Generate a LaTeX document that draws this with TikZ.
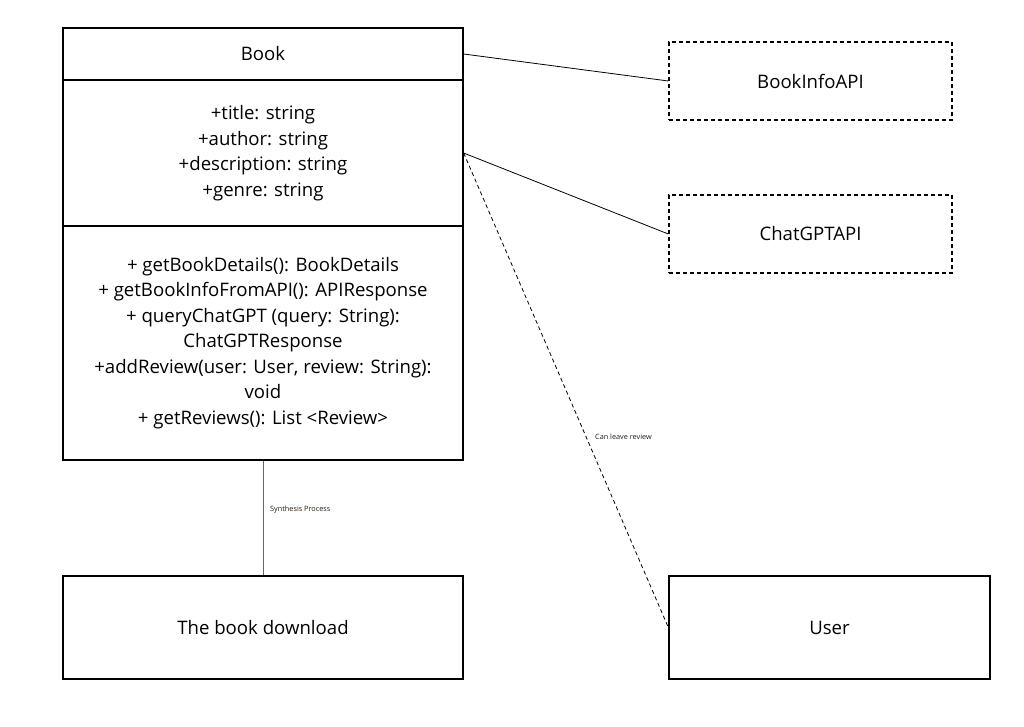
\documentclass[tikz,border=0pt]{standalone}
\usepackage{fontspec}
\setmainfont{Open Sans}
\begin{document}
\begin{tikzpicture}[x=1pt,y=-1pt,
  box/.style={draw=black,line width=1.3pt,rectangle,inner sep=0pt,align=center,
    font=\fontsize{18.6}{25.5}\selectfont},
  apibox/.style={box,dashed,dash pattern=on 4pt off 3pt},
  conn/.style={draw=black,line width=0.8pt},
  small/.style={font=\fontsize{7.3}{8}\selectfont,text=black!80!brown,anchor=west,inner sep=0pt}]
\useasboundingbox (0,0) rectangle (1024,726);
\node[box,minimum width=400pt,minimum height=52pt] (name) at (263,54) {Book};
\node[box,minimum width=400pt,minimum height=146pt] (attr) at (263,153)
  {+title: string\\+author: string\\+description: string\\+genre: string};
\node[box,minimum width=400pt,minimum height=234pt] (meth) at (263,343)
  {+ getBookDetails(): BookDetails\\+ getBookInfoFromAPI(): APIResponse\\+ queryChatGPT (query: String):\\ChatGPTResponse\\+addReview(user: User, review: String):\\void\\+ getReviews(): List <Review>};
\node[apibox,minimum width=283pt,minimum height=78pt] (info) at (810.5,81) {BookInfoAPI};
\node[apibox,minimum width=283pt,minimum height=78pt] (chat) at (810.5,234) {ChatGPTAPI};
\node[box,minimum width=400pt,minimum height=103pt] (down) at (263,627.5) {The book download};
\node[box,minimum width=321pt,minimum height=103pt] (user) at (829.5,627.5) {User};
\draw[conn] (name.east) -- (info.west);
\draw[conn] (attr.east) -- (chat.west);
\draw[conn,dashed,dash pattern=on 4pt off 3pt] (attr.east) -- (user.west);
\draw[conn,draw=black!60] (meth.south) -- (down.north);
\node[small] (lsyn) at (270,510) {Synthesis Process};
\node[small] (lrev) at (595,437) {Can leave review};
\end{tikzpicture}
\end{document}
